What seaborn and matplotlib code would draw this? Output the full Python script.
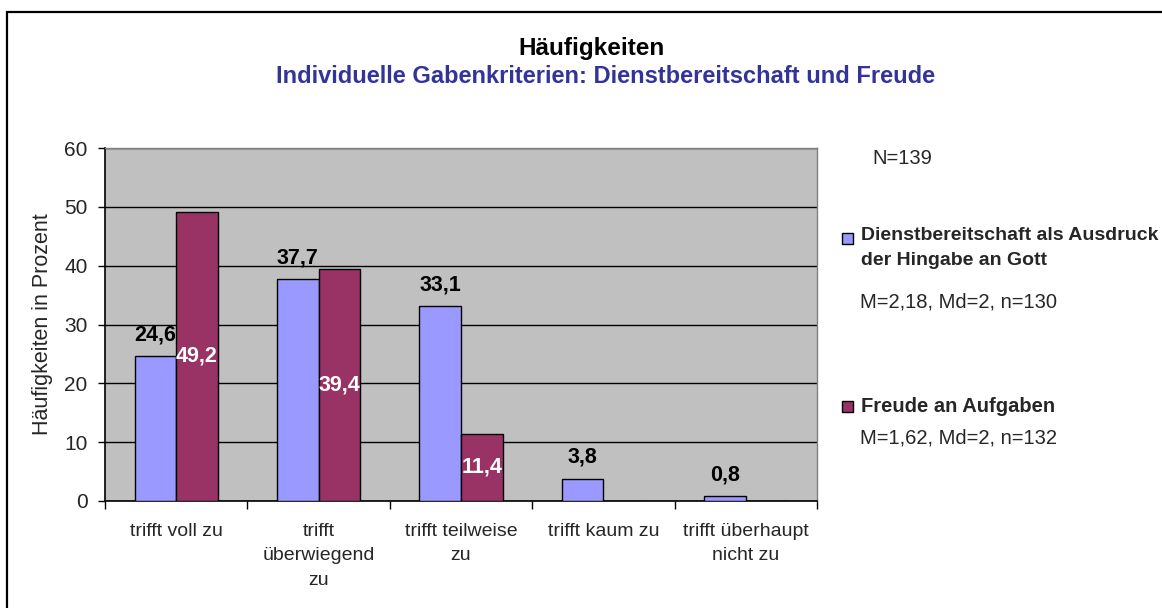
import matplotlib
matplotlib.use("Agg")
import matplotlib.pyplot as plt
import seaborn as sns
import pandas as pd
import numpy as np
from matplotlib.patches import Rectangle

# ---------------- data ----------------
categories = ["trifft voll zu", "trifft\nüberwiegend\nzu", "trifft teilweise\nzu",
              "trifft kaum zu", "trifft überhaupt\nnicht zu"]
series_names = ["Dienstbereitschaft als Ausdruck der Hingabe an Gott", "Freude an Aufgaben"]
dienst = [24.6, 37.7, 33.1, 3.8, 0.8]
freude = [49.2, 39.4, 11.4, 0.0, 0.0]
y_ticks = [0, 10, 20, 30, 40, 50, 60]
title = "Häufigkeiten"
subtitle = "Individuelle Gabenkriterien: Dienstbereitschaft und Freude"
y_label = "Häufigkeiten in Prozent"
n_total = "N=139"
legend_labels = ["Dienstbereitschaft als Ausdruck\nder Hingabe an Gott", "Freude an Aufgaben"]
legend_stats = ["M=2,18, Md=2, n=130", "M=1,62, Md=2, n=132"]

# ---------------- style ----------------
BLUE = "#9999FF"
RED = "#993366"
BG = "#C0C0C0"
NAVY = "#333399"

sns.set_style("white")
plt.rcParams["font.family"] = ["Liberation Sans", "DejaVu Sans"]

W, H = 1162, 608
fig = plt.figure(figsize=(W / 100, H / 100), dpi=100)


def fx(px):
    return px / W


def fy(py):
    return 1 - py / H


ax = fig.add_axes([fx(105), fy(501), fx(817) - fx(105), fy(148) - fy(501)])
ax.set_facecolor(BG)

df = pd.DataFrame({
    "cat": categories * 2,
    "val": dienst + freude,
    "series": [series_names[0]] * len(categories) + [series_names[1]] * len(categories),
})

sns.barplot(data=df, x="cat", y="val", hue="series", order=categories,
            hue_order=series_names, palette=[BLUE, RED], saturation=1,
            width=0.583, edgecolor="black", linewidth=1.0, legend=False, ax=ax,
            zorder=3)


def fmt(v):
    return f"{v:.1f}".replace(".", ",")


for i, cont in enumerate(ax.containers):
    vals = dienst if i == 0 else freude
    for bar, v in zip(cont, vals):
        if v <= 0:
            continue
        cx = bar.get_x() + bar.get_width() / 2
        if i == 0:
            ax.annotate(fmt(v), (cx, v), xytext=(0, 16), textcoords="offset pixels",
                        ha="center", va="baseline", fontsize=15.5, fontweight="bold",
                        color="black", zorder=5)
        else:
            ax.annotate(fmt(v), (cx, v / 2), ha="center", va="center",
                        fontsize=15.5, fontweight="bold", color="white", zorder=5)

# axes
ax.set_ylim(0, 60)
ax.set_yticks(y_ticks)
ax.set_yticklabels([str(t) for t in y_ticks], fontsize=15)
ax.yaxis.grid(True, color="black", linewidth=1.0, zorder=1)
ax.set_axisbelow(True)
ax.tick_params(axis="y", length=5, width=1, color="black", pad=7.5, left=True)

ax.set_xlim(-0.5, len(categories) - 0.5)
ax.set_xticks(np.arange(-0.5, len(categories), 1.0))
ax.set_xticklabels([""] * (len(categories) + 1))
ax.set_xticks(np.arange(len(categories)), minor=True)
ax.set_xticklabels(categories, minor=True, fontsize=14)
ax.tick_params(axis="x", which="major", length=6, width=1, color="black", bottom=True)
ax.tick_params(axis="x", which="minor", length=0, pad=15.5)
for lab in ax.get_xticklabels(minor=True):
    lab.set_linespacing(1.6)
ax.set_xlabel("")

ax.set_ylabel(y_label, fontsize=15.5)
ax.yaxis.set_label_coords((53 - 105) / 712, 0.5)

for s in ["left", "bottom"]:
    ax.spines[s].set_color("black")
    ax.spines[s].set_linewidth(1.2)
for s in ["top", "right"]:
    ax.spines[s].set_color("#808080")
    ax.spines[s].set_linewidth(1.0)

# titles
fig.text(fx(592), fy(55.5), title, ha="center", va="baseline",
         fontsize=17.5, fontweight="bold", color="black")
fig.text(fx(606), fy(83), subtitle, ha="center", va="baseline",
         fontsize=17, fontweight="bold", color=NAVY)

# legend-like annotation block
fig.text(fx(872), fy(158), n_total, ha="left", va="center", fontsize=14.5)
sq = 11
blocks = [(238, 302, BLUE, legend_labels[0], legend_stats[0]),
          (406, 438, RED, legend_labels[1], legend_stats[1])]
for ytxt, ystat, col, lab, stat in blocks:
    fig.add_artist(Rectangle((fx(842), fy(ytxt + sq / 2)), sq / W, sq / H,
                             transform=fig.transFigure, facecolor=col,
                             edgecolor="black", linewidth=1.0))
    if "\n" in lab:
        fig.text(fx(861), fy(ytxt - 11), lab, ha="left", va="top", fontsize=14,
                 fontweight="bold", linespacing=1.65)
    else:
        fig.text(fx(861), fy(ytxt), lab, ha="left", va="center", fontsize=14.5,
                 fontweight="bold")
    fig.text(fx(860), fy(ystat), stat, ha="left", va="center", fontsize=14.5)

# outer chart border (extends past right/bottom edge as in the reference)
fig.add_artist(Rectangle((fx(7), fy(H + 20)), (W + 20) / W, (H + 8) / H,
                         transform=fig.transFigure, facecolor="none",
                         edgecolor="black", linewidth=1.6))

fig.savefig("out.png", dpi=100)
